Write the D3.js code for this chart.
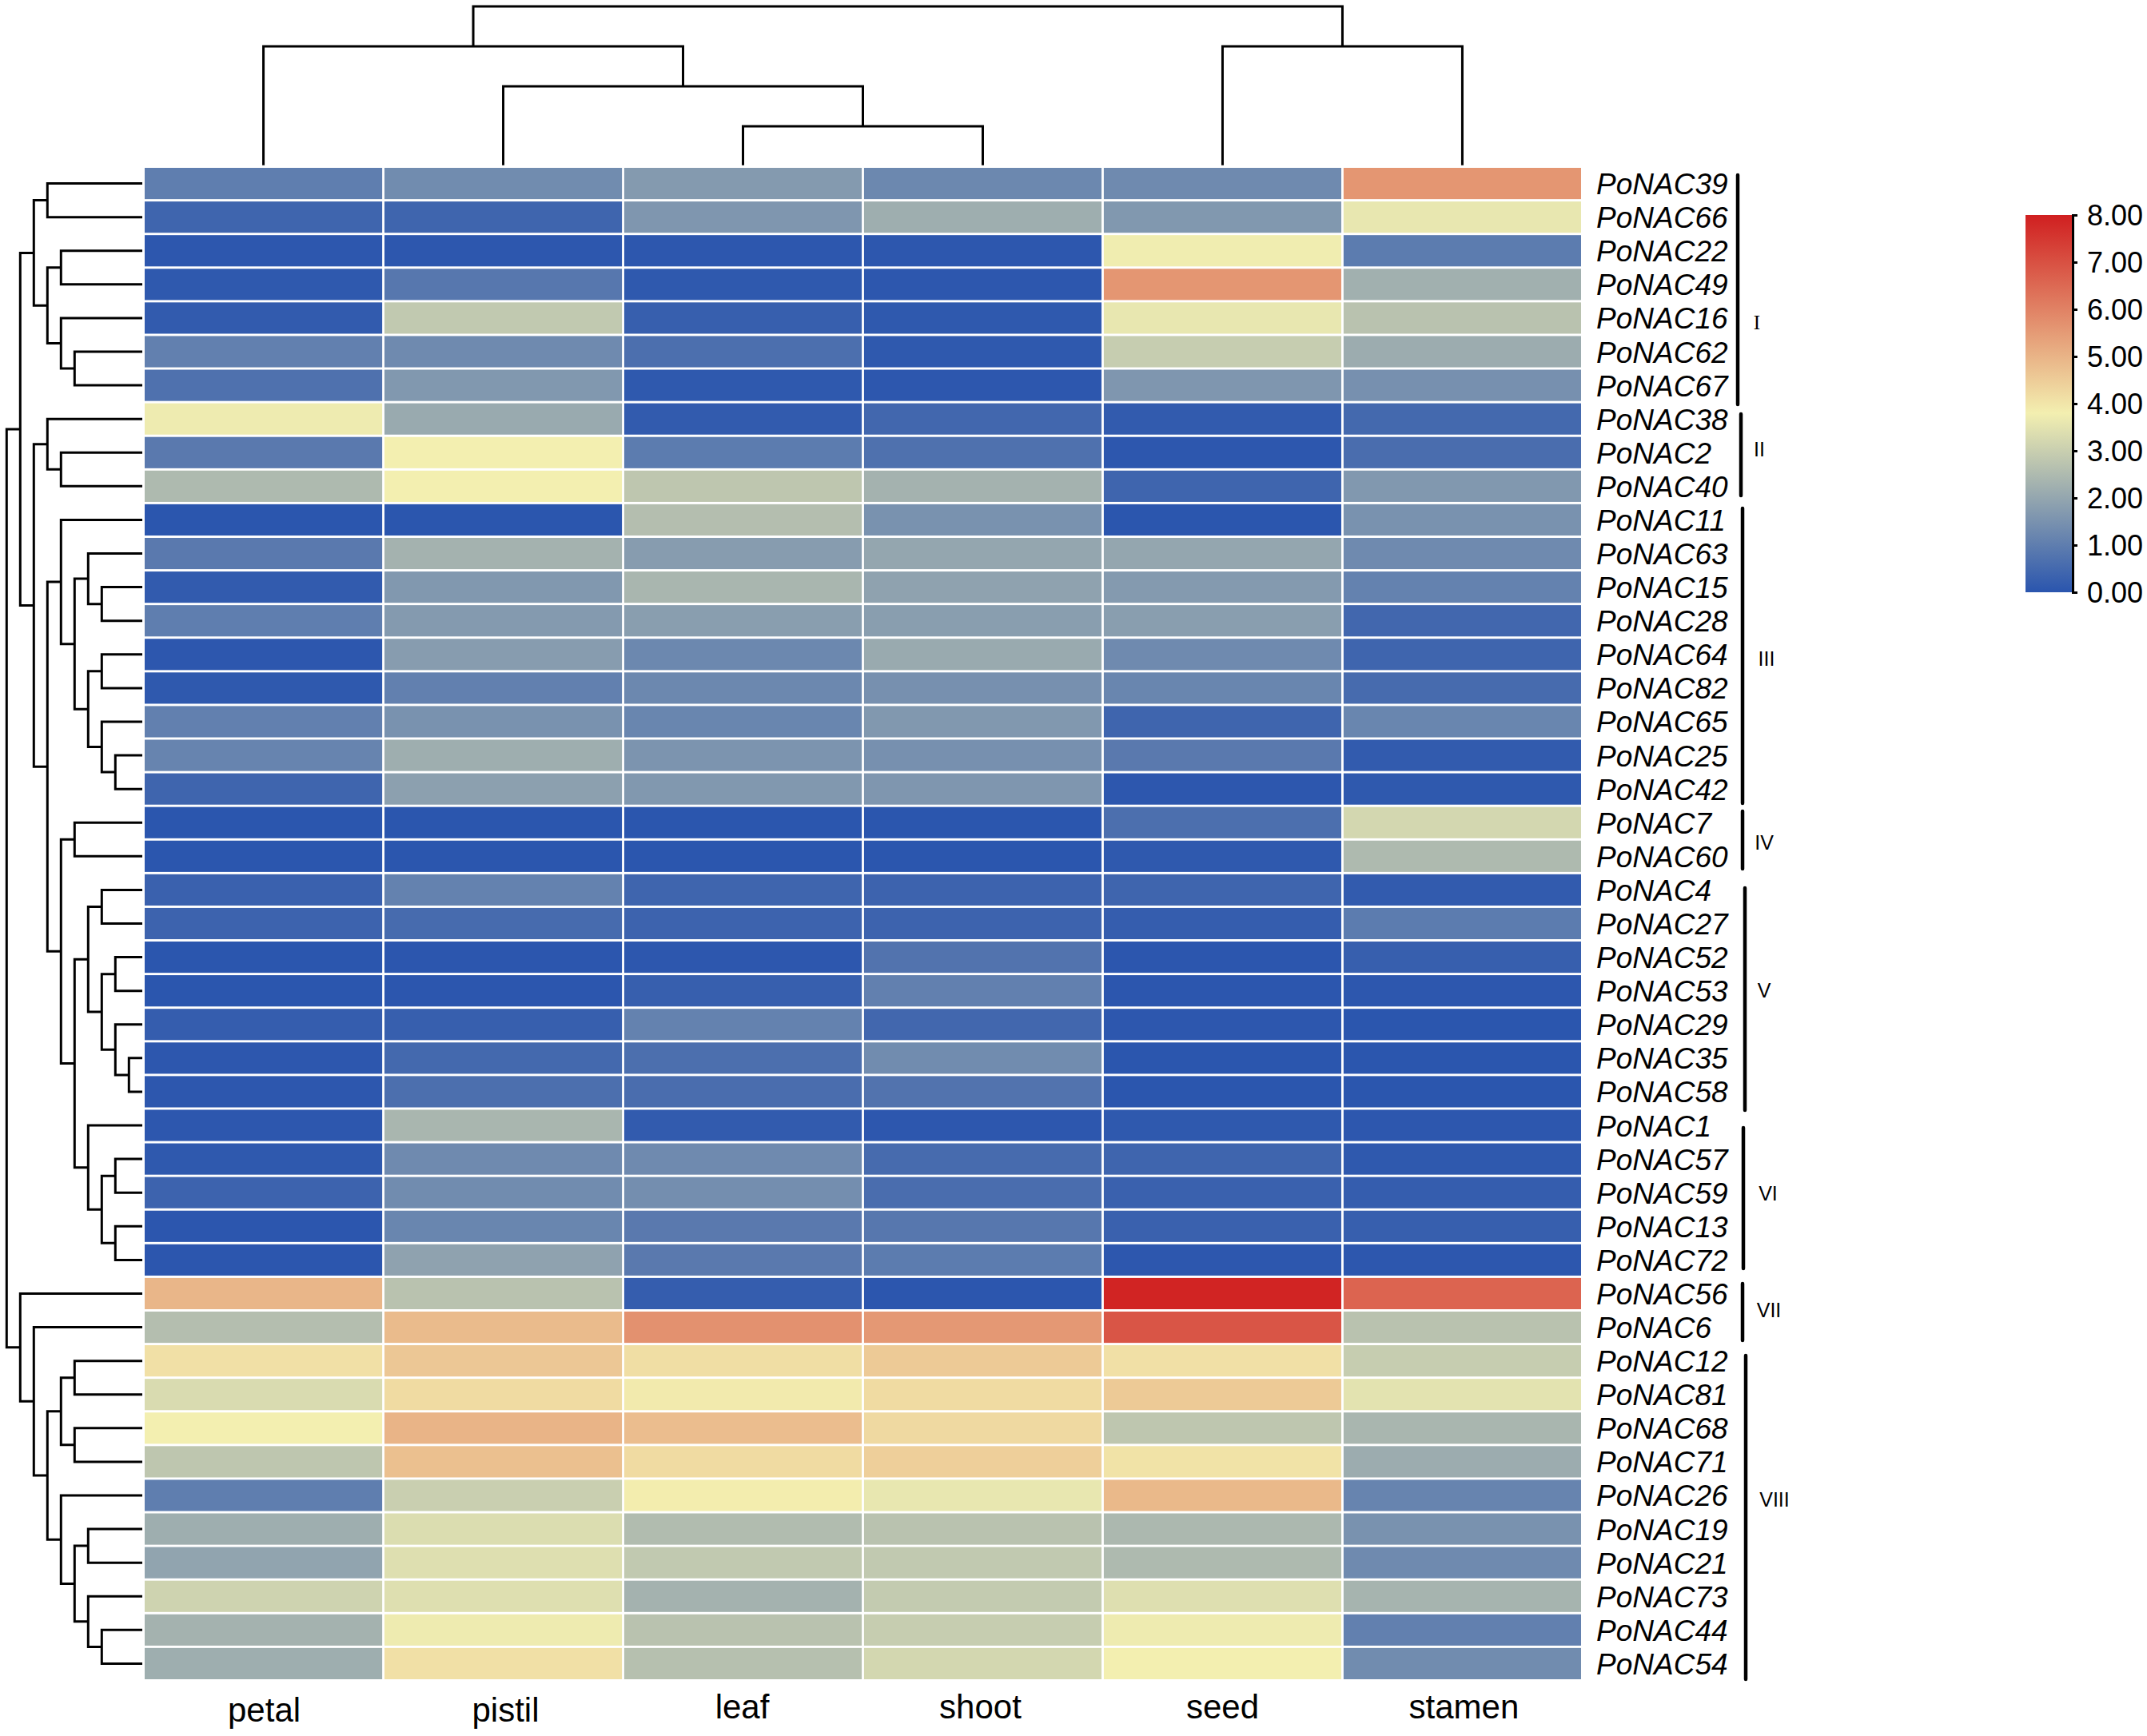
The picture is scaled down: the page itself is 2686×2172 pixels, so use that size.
<!DOCTYPE html>
<html>
<head>
<meta charset="utf-8">
<script src="https://cdn.jsdelivr.net/npm/d3@7"></script>
<style>
body { margin: 0; background: #fff; }
svg text { font-family: "Liberation Sans", Arial, sans-serif; fill: #000; }
</style>
</head>
<body>
<div class="chart"></div>
<script>
var tissues = ["petal", "pistil", "leaf", "shoot", "seed", "stamen"];

var genes = ["PoNAC39","PoNAC66","PoNAC22","PoNAC49","PoNAC16","PoNAC62","PoNAC67","PoNAC38","PoNAC2","PoNAC40",
  "PoNAC11","PoNAC63","PoNAC15","PoNAC28","PoNAC64","PoNAC82","PoNAC65","PoNAC25","PoNAC42","PoNAC7","PoNAC60",
  "PoNAC4","PoNAC27","PoNAC52","PoNAC53","PoNAC29","PoNAC35","PoNAC58","PoNAC1","PoNAC57","PoNAC59","PoNAC13","PoNAC72",
  "PoNAC56","PoNAC6","PoNAC12","PoNAC81","PoNAC68","PoNAC71","PoNAC26","PoNAC19","PoNAC21","PoNAC73","PoNAC44","PoNAC54"];

// one list per tissue, same order as genes
var petal = [1.0,0.4,0.05,0.1,0.15,1.05,0.7,3.7,0.9,2.5,
  0.02,0.9,0.15,1.0,0.05,0.1,1.05,1.15,0.4,0.02,0.02,
  0.3,0.35,0.02,0.02,0.2,0.05,0.05,0.05,0.1,0.35,0.03,0.03,
  4.95,2.6,4.1,3.3,3.8,2.8,1.0,2.2,1.95,3.1,2.3,2.2];
var pistil = [1.35,0.4,0.05,0.85,2.85,1.3,1.65,2.1,3.8,3.8,
  0.02,2.3,1.65,1.7,1.75,1.05,1.5,2.2,1.85,0.02,0.02,
  1.1,0.55,0.03,0.03,0.25,0.5,0.65,2.4,1.3,1.35,1.2,1.9,
  2.7,4.85,4.6,4.2,5.0,4.75,3.0,3.35,3.4,3.4,3.7,4.1];
var leaf = [1.7,1.6,0.05,0.1,0.25,0.65,0.1,0.15,0.95,2.8,
  2.6,1.75,2.4,1.8,1.25,1.25,1.2,1.55,1.65,0.02,0.02,
  0.4,0.35,0.05,0.25,1.1,0.65,0.6,0.15,1.3,1.4,0.9,0.9,
  0.2,5.7,4.15,3.9,4.8,4.2,3.85,2.55,2.85,2.3,2.7,2.65];
var shoot = [1.25,2.2,0.05,0.05,0.1,0.1,0.05,0.45,0.7,2.3,
  1.5,2.0,1.9,1.8,2.1,1.45,1.65,1.45,1.6,0.02,0.02,
  0.35,0.35,0.75,1.05,0.45,1.35,0.75,0.05,0.55,0.6,0.85,0.95,
  0.03,5.55,4.55,4.2,4.25,4.45,3.6,2.7,2.85,2.9,2.95,3.2];
var seed = [1.3,1.65,3.75,5.6,3.6,2.95,1.6,0.15,0.05,0.4,
  0.02,2.0,1.7,1.8,1.3,1.2,0.4,0.9,0.05,0.65,0.1,
  0.4,0.2,0.03,0.03,0.05,0.02,0.02,0.1,0.4,0.3,0.3,0.05,
  7.9,6.9,4.1,4.55,2.8,4.05,4.9,2.45,2.5,3.4,3.7,3.8];
var stamen = [5.6,3.6,0.95,2.25,2.7,2.15,1.45,0.5,0.6,1.65,
  1.5,1.3,1.1,0.45,0.4,0.55,1.2,0.15,0.1,3.2,2.5,
  0.15,0.95,0.25,0.05,0.02,0.02,0.02,0.05,0.1,0.2,0.25,0.05,
  6.6,2.7,2.95,3.5,2.4,2.15,1.15,1.5,1.3,2.35,1.05,1.35];
var tissueValues = [petal, pistil, leaf, shoot, seed, stamen];

var legendTicks = [0, 1, 2, 3, 4, 5, 6, 7, 8];
var legendStops = [0, 3.8, 8];
var legendColors = ["#2a55ae", "#f3efb0", "#d01f20"];

// clusters from the picture, written as nested lists
var rowTree = [
  [
    [["PoNAC39","PoNAC66"],
     [["PoNAC22","PoNAC49"], ["PoNAC16",["PoNAC62","PoNAC67"]]]],
    [["PoNAC38",["PoNAC2","PoNAC40"]],
     [["PoNAC11",[["PoNAC63",["PoNAC15","PoNAC28"]],
                  [["PoNAC64","PoNAC82"],["PoNAC65",["PoNAC25","PoNAC42"]]]]],
      [["PoNAC7","PoNAC60"],
       [[["PoNAC4","PoNAC27"],[["PoNAC52","PoNAC53"],["PoNAC29",["PoNAC35","PoNAC58"]]]],
        ["PoNAC1",[["PoNAC57","PoNAC59"],["PoNAC13","PoNAC72"]]]]]]]
  ],
  ["PoNAC56",
   ["PoNAC6",
    [[["PoNAC12","PoNAC81"],["PoNAC68","PoNAC71"]],
     ["PoNAC26",[["PoNAC19","PoNAC21"],["PoNAC73",["PoNAC44","PoNAC54"]]]]]]]
];
var colTree = [["petal",["pistil",["leaf","shoot"]]],["seed","stamen"]];

// subfamily brackets
var groupNames = ["I","II","III","IV","V","VI","VII","VIII"];
var groupBarX = [2174,2178,2180,2180,2183,2181,2180,2184];
var groupBarTop = [217,516,634,1013,1109,1409,1604,1694];
var groupBarBottom = [508,622,1007,1089,1391,1589,1679,2103];
var groupLabelX = [2198,2201,2210,2207,2207,2212,2213,2220];
var groupLabelY = [403,562,824,1054,1239,1493,1639,1876];

var svg = d3.select(".chart").append("svg")
    .attr("width", 2686)
    .attr("height", 2172)
    .style("display", "block");

var x = d3.scaleBand().domain(tissues).range([181, 1978]).paddingInner(0.0095).paddingOuter(0).align(0);
var y = d3.scaleBand().domain(genes).range([210, 2101]).paddingInner(0.07).paddingOuter(0).align(0);
var color = d3.scaleLinear().domain(legendStops).range(legendColors);

// cells
tissues.forEach(function(t, c){
  svg.append("g").selectAll("rect")
     .data(tissueValues[c])
     .enter()
     .append("rect")
     .attr("x", x(t))
     .attr("y", function(d, i){ return y(genes[i]); })
     .attr("width", x.bandwidth())
     .attr("height", y.bandwidth())
     .attr("fill", function(d){ return color(d); });
});

// row labels
svg.append("g").selectAll("text")
   .data(genes)
   .enter()
   .append("text")
   .attr("x", 1997)
   .attr("y", function(d){ return y(d) + y.bandwidth() / 2 + 13.5; })
   .attr("font-size", 37)
   .attr("font-style", "italic")
   .text(function(d){ return d; });

// column labels are not quite centred or level in the original
var colLabelDx = [1, 3, -1, -3, 0, 2];
var colLabelDy = [4, 4, 0, 0, 0, 0];
svg.append("g").selectAll("text")
   .data(tissues)
   .enter()
   .append("text")
   .attr("x", function(d, i){ return x(d) + x.bandwidth() / 2 + colLabelDx[i]; })
   .attr("y", function(d, i){ return 2150 + colLabelDy[i]; })
   .attr("text-anchor", "middle")
   .attr("font-size", 42)
   .text(function(d){ return d; });

// dendrograms
function kids(d){ return Array.isArray(d) ? d : null; }

function drawTree(root, leafPos, depthPos, leafEnd, vertical){
  root.eachAfter(function(n){
    n.pos = n.children ? (n.children[0].pos + n.children[n.children.length - 1].pos) / 2 : leafPos(n.data);
    n.lev = n.children ? depthPos(n.depth) : leafEnd;
  });
  var path = d3.path();
  root.each(function(n){
    if (!n.children) return;
    var a = n.children[0], b = n.children[1];
    var m = vertical ? function(l, p){ path.moveTo(p, l); } : function(l, p){ path.moveTo(l, p); };
    var t = vertical ? function(l, p){ path.lineTo(p, l); } : function(l, p){ path.lineTo(l, p); };
    m(a.lev, a.pos); t(n.lev, a.pos); t(n.lev, b.pos); t(b.lev, b.pos);
  });
  svg.append("path")
     .attr("d", path.toString())
     .attr("fill", "none")
     .attr("stroke", "#000")
     .attr("stroke-width", 3);
}

drawTree(d3.hierarchy(rowTree, kids),
  function(d){ return y(d) + y.bandwidth() / 2; },
  d3.scaleLinear().domain([0, 9]).range([8.3, 161.3]),
  178, false);

drawTree(d3.hierarchy(colTree, kids),
  function(d){ return x(d) + x.bandwidth() / 2; },
  d3.scaleLinear().domain([0, 3]).range([8, 158]),
  206.7, true);

// group brackets and numerals
groupNames.forEach(function(g, i){
  svg.append("line")
     .attr("x1", groupBarX[i]).attr("x2", groupBarX[i])
     .attr("y1", groupBarTop[i] + 2).attr("y2", groupBarBottom[i] - 2)
     .attr("stroke", "#000")
     .attr("stroke-width", 4.5)
     .attr("stroke-linecap", "round");
  svg.append("text")
     .attr("x", groupLabelX[i])
     .attr("y", groupLabelY[i] + 9)
     .attr("text-anchor", "middle")
     .attr("font-size", 25)
     .style("font-family", g == "I" ? "'Liberation Serif', serif" : null)
     .text(g);
});

// colour legend
var legendY = d3.scaleLinear().domain([0, 8]).range([741, 269]);
var defs = svg.append("defs");
var grad = defs.append("linearGradient")
    .attr("id", "legendGrad")
    .attr("x1", 0).attr("x2", 0).attr("y1", 1).attr("y2", 0);
grad.selectAll("stop")
    .data(legendStops)
    .enter()
    .append("stop")
    .attr("offset", function(d){ return d / 8; })
    .attr("stop-color", function(d){ return color(d); });

svg.append("rect")
   .attr("x", 2534)
   .attr("y", legendY(8))
   .attr("width", 58)
   .attr("height", legendY(0) - legendY(8))
   .attr("fill", "url(#legendGrad)");

var axis = d3.axisRight(legendY)
    .tickValues(legendTicks)
    .tickSize(6)
    .tickPadding(12)
    .tickFormat(d3.format(".2f"));

var legendAxis = svg.append("g")
    .attr("transform", "translate(2593,0)")
    .call(axis);
legendAxis.selectAll("path,line").attr("stroke", "#000").attr("stroke-width", 3);
legendAxis.selectAll("text").attr("font-size", 36).attr("dy", "0.36em")
    .style("font-family", "'Liberation Sans', Arial, sans-serif");
</script>
</body>
</html>
